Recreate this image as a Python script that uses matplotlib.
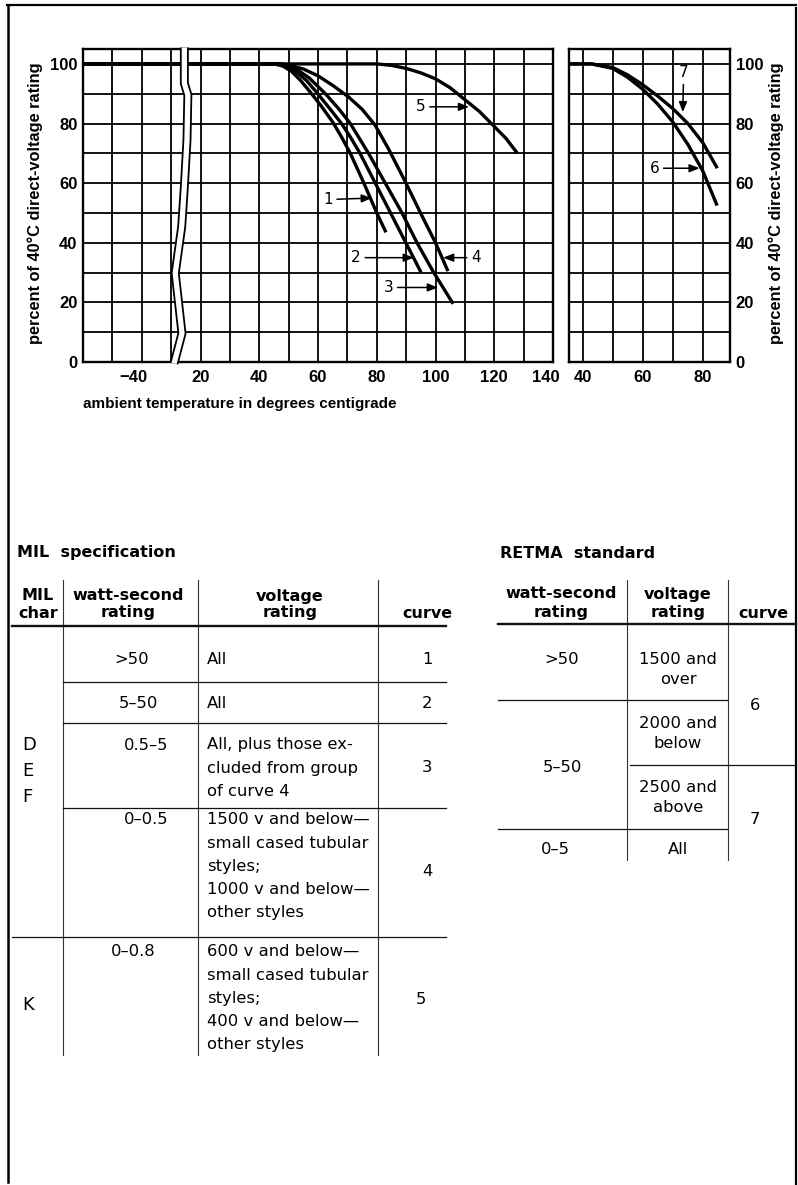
import numpy as np
import matplotlib
matplotlib.use('Agg')
import matplotlib.pyplot as plt
from matplotlib.transforms import ScaledTranslation

# ---- curve data (temperature degC, percent of 40C rating) ----
c1_t = [-60, 45, 48, 51, 54, 57, 61, 65, 68, 71, 75.4, 80, 82.9]
c1_p = [100, 100, 99.3, 97.5, 94.5, 91, 86, 80.5, 75.5, 70, 60.5, 50, 44]
c2_t = [-60, 46, 49, 52, 56, 59.5, 64, 68, 71, 74.3, 79.5, 84.7, 89.9, 94.8]
c2_p = [100, 100, 99.3, 97.8, 94.5, 90.5, 85, 80, 75.5, 70, 60, 50, 40, 30.6]
c3_t = [-60, 47, 50, 53, 57, 62.5, 67, 71, 77.2, 82.9, 88.6, 93.7, 99.4, 105.7]
c3_p = [100, 100, 99.4, 98, 95.3, 90, 85, 80, 70, 60, 50, 40, 30, 20]
c4_t = [-60, 47, 50, 55, 60, 65, 70.3, 75, 79.4, 84, 89.7, 94.9, 100, 104]
c4_p = [100, 100, 99.6, 98.3, 96, 92.8, 89, 84.8, 79.5, 71.5, 60.5, 50, 40, 31]
c5_t = [-60, 80, 85, 90, 95, 100, 105, 110, 115, 120, 124, 127.5]
c5_p = [100, 100, 99.5, 98.5, 97, 95, 92, 88, 84, 79, 75, 70.5]
c6_t = [35, 43, 50, 55, 60, 65, 70, 75, 80, 84.5]
c6_p = [100, 100, 98.5, 95.5, 91.5, 86.5, 80.5, 73, 64, 53]
c7_t = [35, 43, 50, 55, 60, 65, 70, 75, 80, 84.5]
c7_p = [100, 100, 98.8, 96.3, 93, 89.2, 85, 80, 73.5, 65.5]

left_curves = [(c1_t, c1_p), (c2_t, c2_p), (c3_t, c3_p), (c4_t, c4_p), (c5_t, c5_p)]
right_curves = [(c6_t, c6_p), (c7_t, c7_p)]

# curve labels: (label, text position, arrow tip)
left_labels = [('1', (63.4, 54.5), (78.3, 55)),
               ('2', (73, 35), (92.6, 35)),
               ('3', (84, 25), (100.8, 25)),
               ('4', (113.7, 35), (102.6, 35)),
               ('5', (95, 85.6), (111.4, 85.6))]
right_labels = [('6', (63.9, 65), (78.9, 65)),
                ('7', (73.6, 97), (73.3, 83.8))]

# axis ticks
left_xticks = [-60, -50, -40, -30, 20, 30, 40, 50, 60, 70, 80, 90, 100, 110, 120, 130, 140]
left_xlabels = ['', '', '\u221240', '', '20', '', '40', '', '60', '', '80', '', '100', '', '120', '', '140']
right_xticks = [40, 50, 60, 70, 80]
right_xlabels = ['40', '', '60', '', '80']
yticks = [0, 10, 20, 30, 40, 50, 60, 70, 80, 90, 100]
ylabels = ['0', '', '20', '', '40', '', '60', '', '80', '', '100']

# broken-axis squiggle (axis units, percent)
break_u = [14.5, 14.5, 15.7, 15.4, 14.5, 13.6, 11.4, 13.7, 11.0]
break_p = [105.5, 93.5, 89.6, 74.5, 58.8, 45.4, 29.8, 9.6, -0.5]

# ---- table contents ----
mil_header = ['MIL\nchar', 'watt-second\nrating', 'voltage\nrating', 'curve']
mil_char = ['D\nE\nF', 'K']
mil_watt = ['>50', '5\u201350', '0.5\u20135', '0\u20130.5', '0\u20130.8']
mil_voltage = ['All', 'All',
               'All, plus those ex-\ncluded from group\nof curve 4',
               '1500 v and below\u2014\nsmall cased tubular\nstyles;\n1000 v and below\u2014\nother styles',
               '600 v and below\u2014\nsmall cased tubular\nstyles;\n400 v and below\u2014\nother styles']
mil_curve = ['1', '2', '3', '4', '5']

retma_header = ['watt-second\nrating', 'voltage\nrating', 'curve']
retma_watt = ['>50', '5\u201350', '0\u20135']
retma_voltage = ['1500 and\nover', '2000 and\nbelow', '2500 and\nabove', 'All']
retma_curve = ['6', '7']


def to_u(t):
    t = np.asarray(t, dtype=float)
    return np.where(t >= 15, t, t + 40)


W, H = 798, 1185
fig = plt.figure(figsize=(W / 100, H / 100), dpi=100)

bg = fig.add_axes([0, 0, 1, 1])
bg.set_xlim(0, W)
bg.set_ylim(H, 0)
bg.axis('off')


def px_axes(l, t, r, b):
    return fig.add_axes([l / W, 1 - b / H, (r - l) / W, (b - t) / H])


ax = px_axes(83, 49, 553, 362)
ax2 = px_axes(569, 49, 730, 362)

tick_font = dict(fontsize=12, fontweight='bold', family='Liberation Sans')

for a in (ax, ax2):
    a.set_ylim(0, 105)
    a.set_yticks(yticks, ylabels, **tick_font)
    a.grid(True, color='black', lw=1.3)
    a.tick_params(length=0, pad=6, axis='x')
    a.tick_params(length=0, pad=4, axis='y')
    for s in a.spines.values():
        s.set_linewidth(1.7)
    a.patch.set_alpha(0)

ax.set_xlim(-20, 140)
ax.set_xticks(to_u(left_xticks), left_xlabels, **tick_font)
ax2.set_xlim(35.5, 89)
ax2.set_xticks(right_xticks, right_xlabels, **tick_font)
ax2.yaxis.tick_right()
ax2.set_yticks(yticks, ylabels, **tick_font)

# nudge end labels like the original
xl = ax.get_xticklabels()
xl[2].set_transform(xl[2].get_transform() + ScaledTranslation(-8 / 100, 0, fig.dpi_scale_trans))
xl[-1].set_transform(xl[-1].get_transform() + ScaledTranslation(-7 / 100, 0, fig.dpi_scale_trans))

for t, p in left_curves:
    ax.plot(to_u(t), p, color='black', lw=2.4, zorder=3, solid_joinstyle='round')
for t, p in right_curves:
    ax2.plot(t, p, color='black', lw=2.4, zorder=3, solid_joinstyle='round')

arrow = dict(arrowstyle='-|>,head_length=0.55,head_width=0.22', lw=1.1,
             color='black', shrinkA=1, shrinkB=0)
for lab, xyt, xy in left_labels:
    ax.annotate(lab, xy=xy, xytext=xyt, ha='center', va='center',
                fontsize=11, family='DejaVu Sans', arrowprops=arrow, zorder=4)
for lab, xyt, xy in right_labels:
    ax2.annotate(lab, xy=xy, xytext=xyt, ha='center', va='center',
                 fontsize=11, family='DejaVu Sans', arrowprops=arrow, zorder=4)

# axis break
ax.plot(break_u, break_p, color='black', lw=6.4, zorder=5, clip_on=False,
        solid_capstyle='butt', solid_joinstyle='round')
ax.plot(break_u, break_p, color='white', lw=3.8, zorder=6, clip_on=False,
        solid_capstyle='butt', solid_joinstyle='round')

lab_font = dict(fontsize=11.8, fontweight='bold', family='Liberation Sans')
bg.text(35, 203, 'percent of 40\u00b0C direct-voltage rating', rotation=90,
        ha='center', va='center', **lab_font)
bg.text(776, 203, 'percent of 40\u00b0C direct-voltage rating', rotation=90,
        ha='center', va='center', **lab_font)
bg.text(83, 404, 'ambient temperature in degrees centigrade',
        ha='left', va='center', fontsize=11, fontweight='bold', family='Liberation Sans')

# ---- frame ----
bg.plot([7, 796], [5, 5], color='black', lw=1.6)
bg.plot([8, 8], [5, 1182], color='black', lw=1.8)
bg.plot([796, 796], [8, 1185], color='black', lw=1.6)

head_font = dict(fontsize=11.5, fontweight='bold', family='DejaVu Sans')
body_font = dict(fontsize=11.8, family='DejaVu Sans')


def lines_at(x, y0, text, dy, ha='left', **kw):
    for i, ln in enumerate(text.split('\n')):
        bg.text(x, y0 + i * dy, ln, ha=ha, va='center', **kw)


def hline(y, x0, x1, lw=0.9):
    bg.plot([x0, x1], [y, y], color='#111111', lw=lw)


def vline(x, y0, y1):
    bg.plot([x, x], [y0, y1], color='#333333', lw=0.8)


# ---- MIL table ----
bg.text(17, 553, 'MIL  specification', ha='left', va='center', **head_font)
mil_hx = [38, 128, 290, 427]
for x, txt in zip(mil_hx, mil_header):
    nl = txt.count('\n')
    lines_at(x, 613 - 17 * nl, txt, 17, ha='center', **head_font)
for x in [63, 198, 378]:
    vline(x, 580, 1055)
hline(626, 12, 446, lw=1.7)
for y in [682, 723, 808]:
    hline(y, 63, 446)
hline(937, 12, 446)

row_y = [660, 703, 745, 820, 952]
watt_x = [132, 138, 146, 146, 133]
curve_y = [660, 703, 768, 872, 1000]
curve_x = [427, 427, 427, 427, 421]
for i in range(5):
    bg.text(watt_x[i], row_y[i], mil_watt[i], ha='center', va='center', **body_font)
    lines_at(207, row_y[i], mil_voltage[i], 23, **body_font)
    bg.text(curve_x[i], curve_y[i], mil_curve[i], ha='center', va='center', **body_font)
lines_at(22, 745, mil_char[0], 26, fontsize=13, family='DejaVu Sans')
lines_at(22, 1005, mil_char[1], 26, fontsize=13, family='DejaVu Sans')

# ---- RETMA table ----
bg.text(500, 553, 'RETMA  standard', ha='left', va='center', **head_font)
retma_hx = [561, 678, 763]
for x, txt in zip(retma_hx, retma_header):
    nl = txt.count('\n')
    lines_at(x, 613 - 19 * nl, txt, 19, ha='center', **head_font)
for x in [627, 728]:
    vline(x, 580, 860)
hline(624, 498, 796, lw=1.7)
hline(700, 498, 727)
hline(765, 630, 796)
hline(829, 498, 727)

for x, y, txt in zip([562, 562, 555], [660, 767, 850], retma_watt):
    bg.text(x, y, txt, ha='center', va='center', **body_font)
for y, txt in zip([660, 723, 787, 850], retma_voltage):
    lines_at(678, y, txt, 20, ha='center', **body_font)
for y, txt in zip([705, 820], retma_curve):
    bg.text(755, y, txt, ha='center', va='center', **body_font)

fig.savefig('out.png', dpi=100)
